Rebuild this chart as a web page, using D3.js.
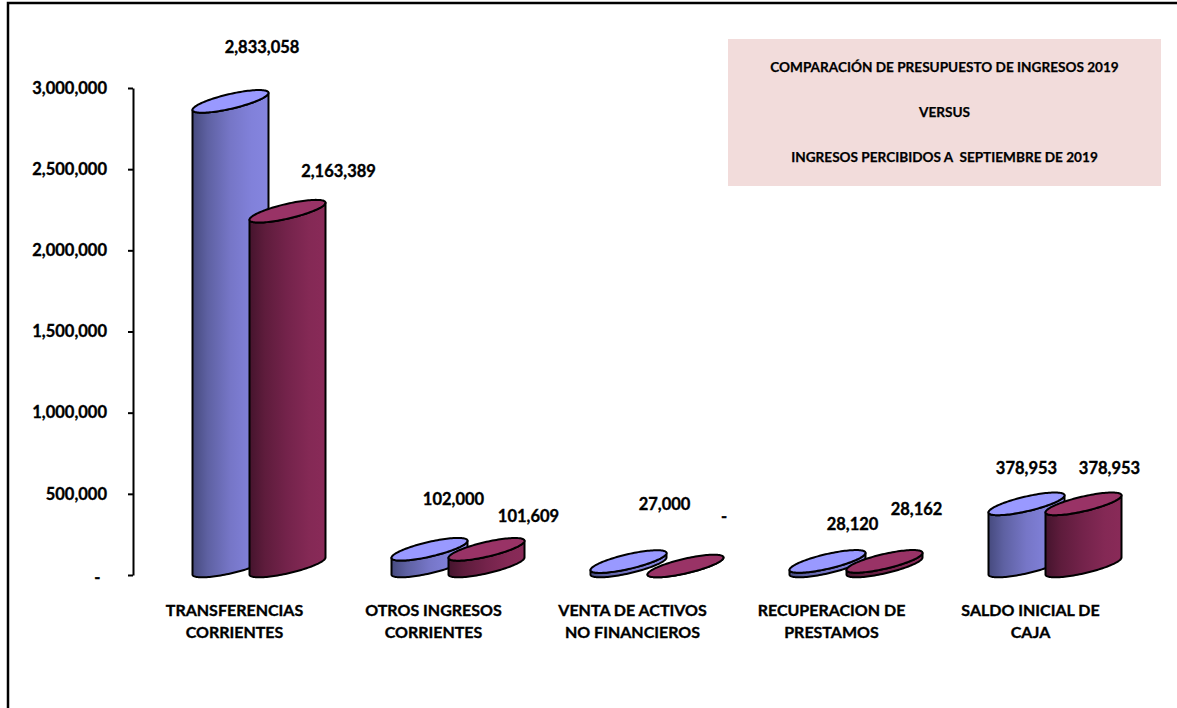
<!DOCTYPE html>
<html>
<head>
<meta charset="utf-8">
<script src="https://cdn.jsdelivr.net/npm/d3@7"></script>
<style>
  body { margin: 0; background: #fff; }
  svg { display: block; }
  text { font-family: Lato, "Open Sans", sans-serif; font-weight: 700; fill: #000; stroke: #000; stroke-width: 0.35px; white-space: pre; }
</style>
</head>
<body>
<svg id="chart" width="1177" height="708"></svg>
<script>
// ---- data ----
const categories = ["TRANSFERENCIAS CORRIENTES", "OTROS INGRESOS CORRIENTES", "VENTA DE ACTIVOS NO FINANCIEROS", "RECUPERACION DE PRESTAMOS", "SALDO INICIAL DE CAJA"];
const categoryLines = [["TRANSFERENCIAS", "CORRIENTES"], ["OTROS INGRESOS", "CORRIENTES"], ["VENTA DE ACTIVOS", "NO FINANCIEROS"], ["RECUPERACION DE", "PRESTAMOS"], ["SALDO INICIAL DE", "CAJA"]];
const presupuesto = [2833058, 102000, 27000, 28120, 378953];   // presupuesto 2019
const percibido   = [2163389, 101609, 0, 28162, 378953];       // percibido a septiembre
const yTicks = [0, 500000, 1000000, 1500000, 2000000, 2500000, 3000000];
const titleLines = ["COMPARACIÓN DE PRESUPUESTO DE INGRESOS 2019", "VERSUS", "INGRESOS PERCIBIDOS A  SEPTIEMBRE DE 2019"];

// ---- layout ----
const svg = d3.select("#chart");
const W = 1177, H = 708;
const axisX = 133;

// value-label nudges (dx from cylinder centre, dy from cylinder top)
const labelNudge = [
  [[31.5, -48.4], [51, -34]],
  [[24, -44], [42, -27]],
  [[36, -51.6], [38.5, -44]],
  [[25, -31.4], [32, -46]],
  [[0, -30], [26, -30]]
];

const series = [
  { key: "presupuesto", values: presupuesto, top: "#9999ff", grad: ["#464a7e", "#5e61a2", "#7676c7", "#8181da", "#8585df"], offset: -4 },
  { key: "percibido",   values: percibido,   top: "#993366", grad: ["#45142d", "#5e1c3c", "#74234b", "#842955", "#892a58"], offset: 53 }
];

const x = d3.scaleBand().domain(categories).range([axisX + 2, axisX + 2 + 5 * 199]).padding(0);
const y = d3.scaleLinear().domain([0, 3000000]).range([575, 88]);
// cylinders sit on the perspective floor, slightly behind the axis plane
const yCyl = d3.scaleLinear().domain([0, 3000000]).range([566, 74]);

const A = 38;           // half width of a cylinder
const K = 8.5 / 38;     // oblique slant of the ellipses
const B = 7.5;          // half depth of the ellipses

// frame
svg.append("rect").attr("x", 8).attr("y", 3).attr("width", W + 20).attr("height", H + 20)
  .attr("fill", "none").attr("stroke", "#000").attr("stroke-width", 2.5);

// gradients
const defs = svg.append("defs");
series.forEach(s => {
  const g = defs.append("linearGradient").attr("id", "side-" + s.key)
    .attr("x1", 0).attr("x2", 1).attr("y1", 0).attr("y2", 0);
  const offs = [0, 0.2, 0.5, 0.78, 1];
  s.grad.forEach((c, i) => g.append("stop").attr("offset", offs[i]).attr("stop-color", c));
});

// title box
svg.append("rect").attr("x", 728).attr("y", 39).attr("width", 433).attr("height", 147).attr("fill", "#f2dcdb");
svg.append("g").selectAll("text").data(titleLines).join("text")
  .attr("x", 944.5).attr("y", (d, i) => 72 + i * 45)
  .attr("text-anchor", "middle").style("font-size", "13.6px").style("stroke-width", "0.25px").text(d => d);

// y axis
const axis = d3.axisLeft(y).tickValues(yTicks).tickSize(5).tickSizeOuter(0).tickPadding(21)
  .tickFormat(d => d === 0 ? "-" : d3.format(",")(d));
const gAxis = svg.append("g").attr("transform", `translate(${axisX},0)`).call(axis);
gAxis.select(".domain").attr("stroke", "#000").attr("stroke-width", 2);
gAxis.selectAll(".tick line").attr("stroke", "#000").attr("stroke-width", 2);
gAxis.selectAll(".tick text").style("font-size", "16.5px").style("font-family", "Lato, sans-serif").style("font-weight", 700).attr("fill", "#000");
gAxis.selectAll(".tick text").filter(d => d === 0).attr("x", -32.5).attr("dy", "0.45em");

// ellipse helpers
function ell(cx, cy, t) {
  return [cx + A * Math.cos(t), cy - K * A * Math.cos(t) - B * Math.sin(t)];
}
function arc(cx, cy, t0, t1, n = 60) {
  return d3.range(n + 1).map(i => ell(cx, cy, t0 + (t1 - t0) * i / n));
}
const line = d3.line();

// cylinders
const gBars = svg.append("g");
categories.forEach((cat, ci) => {
  series.forEach((s, si) => {
    const v = s.values[ci];
    const cx = x(cat) + x.bandwidth() / 2 + s.offset;
    const yTop = yCyl(v), yBot = yCyl(0);
    const side = [
      ...arc(cx, yBot, Math.PI, 2 * Math.PI),
      ...arc(cx, yTop, 2 * Math.PI, Math.PI)
    ];
    const g = gBars.append("g");
    g.append("path").attr("d", line(side) + "Z")
      .attr("fill", `url(#side-${s.key})`).attr("stroke", "#000").attr("stroke-width", 2).attr("stroke-linejoin", "round");
    g.append("path").attr("d", line(arc(cx, yTop, 0, 2 * Math.PI, 120)) + "Z")
      .attr("fill", s.top).attr("stroke", "#000").attr("stroke-width", 2);
    // value label
    const [dx, dy] = labelNudge[ci][si];
    svg.append("text").attr("x", cx + dx).attr("y", yTop + dy)
      .attr("text-anchor", "middle").style("font-size", "16.5px")
      .text(v === 0 ? "-" : d3.format(",")(v));
  });
});

// category labels
const gCat = svg.append("g");
categories.forEach((cat, ci) => {
  const t = gCat.append("text").attr("text-anchor", "middle").style("font-size", "16px");
  categoryLines[ci].forEach((ln, li) => {
    t.append("tspan").attr("x", x(cat) + x.bandwidth() / 2).attr("y", 616 + li * 22).text(ln);
  });
});
</script>
</body>
</html>
